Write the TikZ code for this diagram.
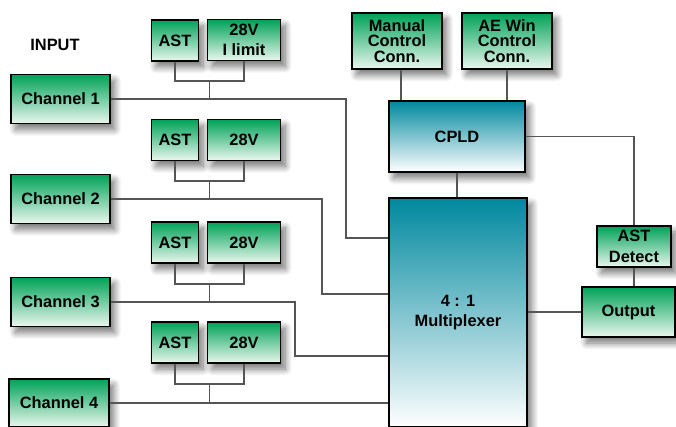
\documentclass[tikz,border=0pt]{standalone}
\usepackage{fontspec}
\setmainfont{Liberation Sans}
\usetikzlibrary{shadows.blur}
\definecolor{gtop}{RGB}{0,162,88}
\definecolor{gbot}{RGB}{234,247,238}
\definecolor{ttop}{RGB}{0,136,158}
\definecolor{tbot}{RGB}{255,255,255}
\definecolor{wirec}{RGB}{85,85,85}
\begin{document}
\begin{tikzpicture}[x=0.75pt,y=-0.75pt,
  wh/.style 2 args={minimum width=#1*0.75pt, minimum height=#2*0.75pt},
  ls/.style={font=\bfseries\fontsize{12.3}{#1}\selectfont},
  box/.style={draw=black, line width=1.1pt, inner sep=0pt, align=center, ls=11.5,
    blur shadow={shadow xshift=3.5pt, shadow yshift=-4.5pt, shadow blur steps=12,
      shadow opacity=55, shadow blur radius=5pt}},
  gbox/.style={box, top color=gtop, bottom color=gbot},
  tbox/.style={box, top color=ttop, bottom color=tbot},
  wire/.style={draw=wirec, line width=0.8pt}]
\useasboundingbox (0,0) rectangle (676,427);

% input label
\node[ls=14] (inp) at (55,45) {INPUT};

% channels
\node[gbox, wh={99}{49}] (ch1) at (60.5,99) {Channel 1};
\node[gbox, wh={99}{49}] (ch2) at (60.5,199) {Channel 2};
\node[gbox, wh={99}{49}] (ch3) at (60.5,302) {Channel 3};
\node[gbox, wh={100}{48}] (ch4) at (59,403) {Channel 4};

% AST / 28V pairs
\node[gbox, wh={47}{41}] (a1) at (175,40.5) {AST};
\node[gbox, wh={73}{41}, ls=15] (v1) at (244,40) {28V\\I limit};
\node[gbox, wh={47}{41}] (a2) at (175,140) {AST};
\node[gbox, wh={73}{41}] (v2) at (244,140) {28V};
\node[gbox, wh={47}{41}] (a3) at (175,242.5) {AST};
\node[gbox, wh={73}{41}] (v3) at (244,242.5) {28V};
\node[gbox, wh={47}{41}] (a4) at (175,342.5) {AST};
\node[gbox, wh={73}{41}] (v4) at (244,342.5) {28V};

% control
\node[gbox, wh={90}{56}] (man) at (397,41) {Manual\\Control\\Conn.};
\node[gbox, wh={90}{56}] (ae) at (507,41) {AE Win\\Control\\Conn.};
\node[tbox, wh={136}{71}] (cpld) at (457,136.5) {CPLD};
\node[tbox, wh={138}{229}, ls=15] (mux) at (458,312.5) {4 : 1\\Multiplexer};

% output side
\node[gbox, wh={74}{41}, ls=16] (det) at (634,246.5) {AST\\Detect};
\node[gbox, wh={93}{50}] (out) at (628.5,312) {Output};

% junction coordinates
\coordinate (j1) at (209.5,81);
\coordinate (j2) at (209.5,181);
\coordinate (j3) at (209.5,284);
\coordinate (j4) at (209.5,384);
\coordinate (k1) at (346,238);
\coordinate (k2) at (322,294);
\coordinate (k3) at (295,356);

% AST/28V connectors
\draw[wire] (a1.south) |- (j1) -| (v1.south);
\draw[wire] (j1) -- (j1 |- ch1.east);
\draw[wire] (a2.south) |- (j2) -| (v2.south);
\draw[wire] (j2) -- (j2 |- ch2.east);
\draw[wire] (a3.south) |- (j3) -| (v3.south);
\draw[wire] (j3) -- (j3 |- ch3.east);
\draw[wire] (a4.south) |- (j4) -| (v4.south);
\draw[wire] (j4) -- (j4 |- ch4.east);

% channel lines to mux
\draw[wire] (ch1.east) -| (k1) -- (k1 -| mux.west);
\draw[wire] (ch2.east) -| (k2) -- (k2 -| mux.west);
\draw[wire] (ch3.east) -| (k3) -- (k3 -| mux.west);
\draw[wire] (ch4.east) -- (ch4.east -| mux.west);

% control lines
\draw[wire] ([xshift=3pt]man.south) -- ([xshift=3pt]man.south |- cpld.north);
\draw[wire] (ae.south) -- (ae.south |- cpld.north);
\draw[wire] (cpld.south) -- (cpld.south |- mux.north);
\draw[wire] (cpld.east) -| (det.north);
\draw[wire] (det.south) -- (det.south |- out.north);
\draw[wire] (out.west -| mux.east) -- (out.west);
\end{tikzpicture}
\end{document}
